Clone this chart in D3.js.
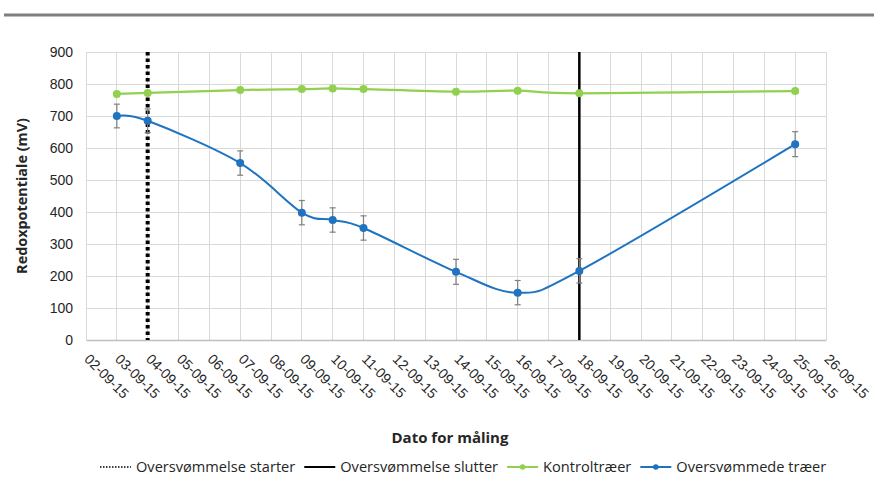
<!DOCTYPE html>
<html>
<head>
<meta charset="utf-8">
<script src="https://cdn.jsdelivr.net/npm/d3@7"></script>
<style>
  body { margin: 0; background: #fff; }
  svg { display: block; font-family: "Open Sans", "Noto Sans", sans-serif; }
</style>
</head>
<body>
<svg id="chart" width="874" height="479"></svg>
<script>
// Measurement dates and redox readings (mV)
const dates = ["2015-09-03","2015-09-04","2015-09-07","2015-09-09","2015-09-10",
               "2015-09-11","2015-09-14","2015-09-16","2015-09-18","2015-09-25"];
const kontrol = [769, 772, 781, 784, 786, 784, 776, 779, 771, 778];
const oversvommede = [700, 685, 553, 398, 375, 350, 213, 148, 216, 612];
const fejl = [37, 37, 38, 38, 38, 38, 39, 38, 38, 39];
const floodStart = "2015-09-04";
const floodEnd = "2015-09-18";
const xDomain = ["2015-09-02", "2015-09-26"];
const yTicks = [0, 100, 200, 300, 400, 500, 600, 700, 800, 900];
const legendLabels = ["Oversvømmelse starter", "Oversvømmelse slutter", "Kontroltræer", "Oversvømmede træer"];

const parse = d3.utcParse("%Y-%m-%d");
const fmt = d3.utcFormat("%d-%m-%y");
const svg = d3.select("#chart");

const mLeft = 86, mRight = 826, mTop = 52, mBottom = 340;
const x = d3.scaleUtc().domain(xDomain.map(parse)).range([mLeft, mRight]);
const y = d3.scaleLinear().domain([0, 900]).range([mBottom, mTop]);

const green = "#92d050", blue = "#1f73c1", textCol = "#262626";

// header rule
svg.append("rect").attr("x", 4).attr("y", 13.5).attr("width", 870).attr("height", 3).attr("fill", "#7f7f7f");

// gridlines
const days = d3.utcDay.range(parse(xDomain[0]), d3.utcDay.offset(parse(xDomain[1]), 1));
svg.append("g").selectAll("line").data(days).join("line")
  .attr("x1", d => x(d)).attr("x2", d => x(d)).attr("y1", mTop).attr("y2", mBottom)
  .attr("stroke", "#d9d9d9").attr("stroke-width", 1).attr("shape-rendering", "crispEdges");
svg.append("g").selectAll("line").data(yTicks.slice(1)).join("line")
  .attr("x1", mLeft).attr("x2", mRight).attr("y1", d => y(d)).attr("y2", d => y(d))
  .attr("stroke", "#d9d9d9").attr("stroke-width", 1).attr("shape-rendering", "crispEdges");

// x axis
const xAxis = svg.append("g").attr("transform", `translate(0,${mBottom})`)
  .call(d3.axisBottom(x).tickValues(days).tickFormat(fmt).tickSize(0).tickPadding(0));
xAxis.select(".domain").attr("stroke", "#bfbfbf").attr("stroke-width", 1.3);
xAxis.selectAll("text")
  .attr("fill", textCol).attr("font-size", 14)
  .attr("text-anchor", "start").attr("dy", 0).attr("y", 0)
  .attr("transform", "translate(-3,20) rotate(45)");

// y axis
const yAxis = svg.append("g").attr("transform", `translate(${mLeft},0)`)
  .call(d3.axisLeft(y).tickValues(yTicks).tickSize(0).tickPadding(13));
yAxis.select(".domain").remove();
yAxis.selectAll("text").attr("fill", textCol).attr("font-size", 14);

// axis titles
svg.append("text").attr("transform", `translate(27,${(mTop + mBottom) / 2}) rotate(-90)`)
  .attr("text-anchor", "middle").attr("font-size", 14.4).attr("font-weight", "bold").attr("fill", textCol)
  .text("Redoxpotentiale (mV)");
svg.append("text").attr("x", 450).attr("y", 443)
  .attr("text-anchor", "middle").attr("font-size", 15).attr("font-weight", "bold").attr("fill", textCol)
  .text("Dato for måling");

// flood markers
svg.append("line").attr("x1", x(parse(floodStart))).attr("x2", x(parse(floodStart)))
  .attr("y1", mTop).attr("y2", mBottom).attr("stroke", "#000").attr("stroke-width", 4)
  .attr("stroke-dasharray", "3.5,3");
svg.append("line").attr("x1", x(parse(floodEnd))).attr("x2", x(parse(floodEnd)))
  .attr("y1", mTop).attr("y2", mBottom).attr("stroke", "#000").attr("stroke-width", 2.5);

const dts = dates.map(parse);
const line = d3.line().curve(d3.curveCardinal.tension(0));

// control trees
svg.append("path").attr("d", line(dts.map((d, i) => [x(d), y(kontrol[i])])))
  .attr("fill", "none").attr("stroke", green).attr("stroke-width", 2.25);
svg.append("g").selectAll("circle").data(dts).join("circle")
  .attr("cx", d => x(d)).attr("cy", (d, i) => y(kontrol[i])).attr("r", 4).attr("fill", green);

// flooded trees: error bars, line, markers
const eb = svg.append("g").attr("stroke", "#7f7f7f").attr("stroke-width", 1.2);
dts.forEach((d, i) => {
  const cx = x(d), y1 = y(oversvommede[i] + fejl[i]), y2 = y(oversvommede[i] - fejl[i]);
  eb.append("line").attr("x1", cx).attr("x2", cx).attr("y1", y1).attr("y2", y2);
  eb.append("line").attr("x1", cx - 3).attr("x2", cx + 3).attr("y1", y1).attr("y2", y1);
  eb.append("line").attr("x1", cx - 3).attr("x2", cx + 3).attr("y1", y2).attr("y2", y2);
});
svg.append("path").attr("d", line(dts.map((d, i) => [x(d), y(oversvommede[i])])))
  .attr("fill", "none").attr("stroke", blue).attr("stroke-width", 2);
svg.append("g").selectAll("circle").data(dts).join("circle")
  .attr("cx", d => x(d)).attr("cy", (d, i) => y(oversvommede[i])).attr("r", 4).attr("fill", blue);

// legend
const lg = svg.append("g").attr("transform", "translate(0,467)");
const styles = [
  {stroke: "#000", w: 1.5, dash: "1.5,1.5", dot: null},
  {stroke: "#000", w: 2, dash: null, dot: null},
  {stroke: green, w: 2, dash: null, dot: green},
  {stroke: blue, w: 2, dash: null, dot: blue}
];
let lx = 100;
legendLabels.forEach((lab, i) => {
  const s = styles[i];
  lg.append("line").attr("x1", lx).attr("x2", lx + 31).attr("y1", 0).attr("y2", 0)
    .attr("stroke", s.stroke).attr("stroke-width", s.w).attr("stroke-dasharray", s.dash);
  if (s.dot) lg.append("circle").attr("cx", lx + 15.5).attr("cy", 0).attr("r", 2.8).attr("fill", s.dot);
  const t = lg.append("text").attr("x", lx + 36).attr("y", 5).attr("font-size", 14.6)
    .attr("fill", textCol).text(lab);
  lx += 36 + t.node().getComputedTextLength() + 9;
});
</script>
</body>
</html>
